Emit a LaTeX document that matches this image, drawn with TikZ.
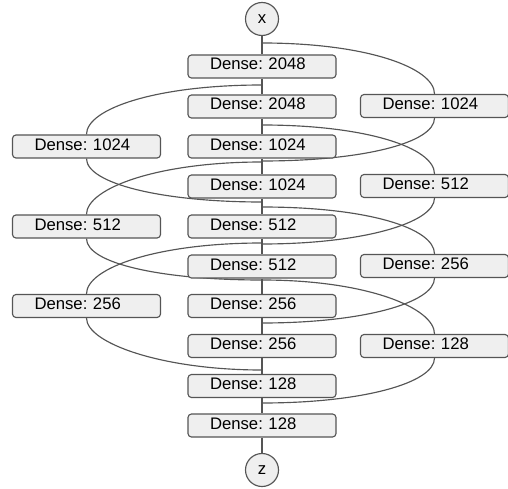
\documentclass[tikz,border=0pt]{standalone}
\usepackage{fontspec}
\setmainfont{Liberation Sans}
\usetikzlibrary{backgrounds}
\definecolor{boxfill}{RGB}{239,239,239}
\definecolor{edgegray}{RGB}{85,85,85}
\tikzset{
  layer/.style={draw=edgegray, fill=boxfill, line width=1.15pt, rounded corners=3.5pt,
    minimum height=23pt, inner xsep=22pt, inner ysep=0pt, text width=104pt,
    align=left, text height=12pt, text depth=5pt,
    font=\fontsize{16.7}{19}\selectfont\frenchspacing},
  io/.style={circle, draw=edgegray, fill=boxfill, line width=1.15pt, minimum size=33pt,
    inner sep=0pt, font=\fontsize{16.7}{19}\selectfont},
  link/.style={draw=edgegray, line width=1.15pt},
  toright/.style={out=0, in=90, out distance=105pt, in distance=26pt},
  fromright/.style={out=-90, in=0, out distance=25pt, in distance=100pt},
  toleft/.style={out=180, in=90, out distance=105pt, in distance=26pt},
  fromleft/.style={out=-90, in=180, out distance=25pt, in distance=100pt},
}

\begin{document}
\begin{tikzpicture}[x=1pt, y=1pt]
  \useasboundingbox (0,0) rectangle (508,-489);
  % main column
  \node[io] (x) at (262,-19) {x};
  \node[layer] (c1) at (262,-66.5) {Dense: 2048};
  \node[layer] (c2) at (262,-106.5) {Dense: 2048};
  \node[layer] (c3) at (262,-146.5) {Dense: 1024};
  \node[layer] (c4) at (262,-186.5) {Dense: 1024};
  \node[layer] (c5) at (262,-226.5) {Dense: 512};
  \node[layer] (c6) at (262,-266.5) {Dense: 512};
  \node[layer] (c7) at (262,-306) {Dense: 256};
  \node[layer] (c8) at (262,-346) {Dense: 256};
  \node[layer] (c9) at (262,-386) {Dense: 128};
  \node[layer] (c10) at (262,-425.5) {Dense: 128};
  \node[io] (z) at (262,-470) {z};
  % side branches
  \node[layer] (r1) at (434.5,-106) {Dense: 1024};
  \node[layer] (r2) at (434.5,-186) {Dense: 512};
  \node[layer] (r3) at (434.5,-266) {Dense: 256};
  \node[layer] (r4) at (434.5,-346) {Dense: 128};
  \node[layer] (l1) at (86.5,-146.5) {Dense: 1024};
  \node[layer] (l2) at (86.5,-226.5) {Dense: 512};
  \node[layer] (l3) at (86.5,-306) {Dense: 256};
  % split and merge points
  \coordinate (s1) at (262,-43);  \coordinate (m1) at (262,-161);
  \coordinate (s2) at (262,-85);  \coordinate (m2) at (262,-202);
  \coordinate (s3) at (262,-125); \coordinate (m3) at (262,-244);
  \coordinate (s4) at (262,-162); \coordinate (m4) at (262,-280);
  \coordinate (s5) at (262,-207); \coordinate (m5) at (262,-323);
  \coordinate (s6) at (262,-243); \coordinate (m6) at (262,-370);
  \coordinate (s7) at (262,-280); \coordinate (m7) at (262,-403);
  \begin{scope}[on background layer]
    \draw[link] (x) -- (c1) -- (c2) -- (c3) -- (c4) -- (c5) -- (c6) -- (c7)
      -- (c8) -- (c9) -- (c10) -- (z);
    \foreach \i/\n in {1/r1, 3/r2, 5/r3, 7/r4} {
      \draw[link] (s\i) to[toright] (\n.north);
      \draw[link] (\n.south) to[fromright] (m\i);
    }
    \foreach \i/\n in {2/l1, 4/l2, 6/l3} {
      \draw[link] (s\i) to[toleft] (\n.north);
      \draw[link] (\n.south) to[fromleft] (m\i);
    }
  \end{scope}
\end{tikzpicture}
\end{document}
